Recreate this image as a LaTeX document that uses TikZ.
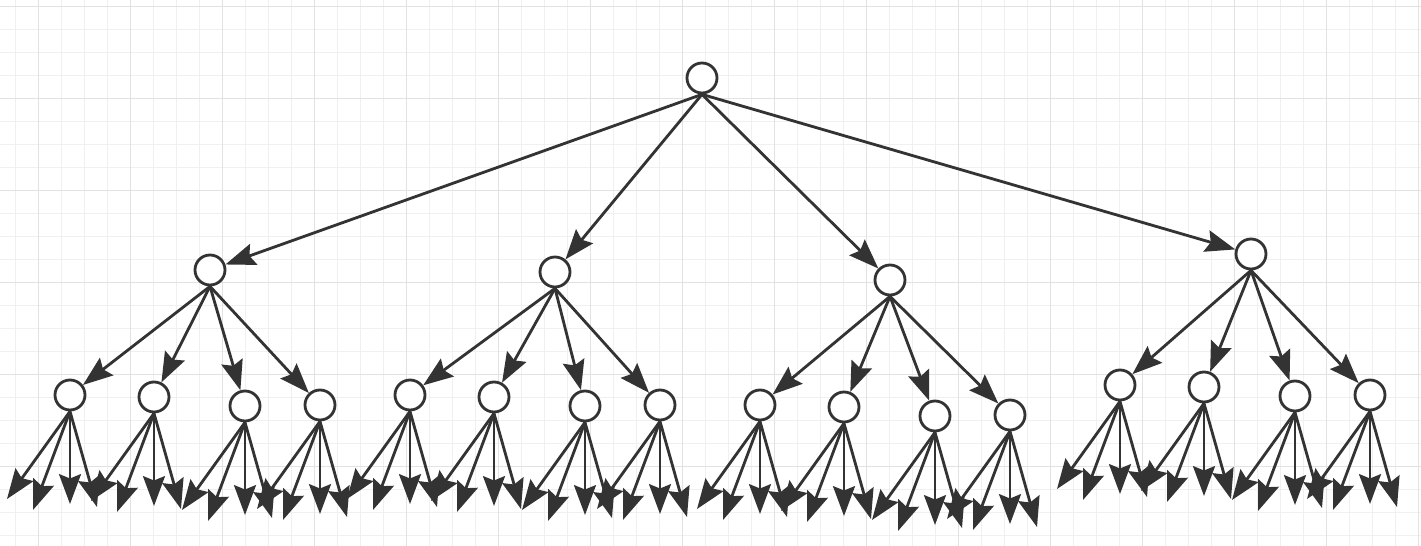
\documentclass[tikz,border=0pt]{standalone}
\usepackage{tikz}
\usetikzlibrary{arrows.meta}
\definecolor{ink}{HTML}{333333}
\definecolor{gridminor}{HTML}{F0F0F0}
\definecolor{gridmajor}{HTML}{E2E2E2}

\begin{document}
\begin{tikzpicture}[x=0.02cm, y=-0.02cm, >={Stealth[length=17pt,width=12.5pt,inset=2.5pt]},
  vertex/.style={draw=ink, circle, line width=1.6pt, fill=white, minimum size=0.6cm, inner sep=0pt},
  edge/.style={->, draw=ink, line width=1.6pt}]
\useasboundingbox (0,0) rectangle (1421,546);
\fill[white] (0,0) rectangle (1421,546);
% background grid
\foreach \gx in {15.3,38.3,...,1421} \draw[gridminor, line width=0.55pt] (\gx,0) -- (\gx,546);
\foreach \gy in {6,29,...,546} \draw[gridminor, line width=0.55pt] (0,\gy) -- (1421,\gy);
\foreach \gx in {38.3,130.3,...,1421} \draw[gridmajor, line width=0.55pt] (\gx,0) -- (\gx,546);
\foreach \gy in {6,98,...,546} \draw[gridmajor, line width=0.55pt] (0,\gy) -- (1421,\gy);

% root and first level
\node (r) [vertex] at (702,78) {};
\node (a) [vertex] at (210,270) {};
\node (b) [vertex] at (555,272) {};
\node (c) [vertex] at (890,280) {};
\node (d) [vertex] at (1251,254) {};

% second level
\node (a1) [vertex] at (70,395) {};
\node (a2) [vertex] at (154,397) {};
\node (a3) [vertex] at (245,406) {};
\node (a4) [vertex] at (320,405) {};
\node (b1) [vertex] at (410,395) {};
\node (b2) [vertex] at (494,397) {};
\node (b3) [vertex] at (585,406) {};
\node (b4) [vertex] at (660,405) {};
\node (c1) [vertex] at (760,405) {};
\node (c2) [vertex] at (844,407) {};
\node (c3) [vertex] at (935,416) {};
\node (c4) [vertex] at (1010,415) {};
\node (d1) [vertex] at (1120,385) {};
\node (d2) [vertex] at (1204,387) {};
\node (d3) [vertex] at (1295,396) {};
\node (d4) [vertex] at (1370,395) {};

\foreach \p in {a,b,c,d} \draw[edge] (r.south) -- (\p);
\foreach \p in {a,b,c,d} {
  \foreach \k in {1,2,3,4} \draw[edge] (\p.south) -- (\p\k);
}

% leaves
\foreach \n in {a1,a2,a3,a4,b1,b2,b3,b4,c1,c2,c3,c4,d1,d2,d3,d4} {
  \path (\n) ++(-63,104) coordinate (\n-1)
        (\n) ++(-37,115) coordinate (\n-2)
        (\n) ++(0,109) coordinate (\n-3)
        (\n) ++(27,112) coordinate (\n-4);
  \foreach \k in {1,2,3,4} \draw[edge] (\n.south) -- (\n-\k);
}
\end{tikzpicture}
\end{document}
